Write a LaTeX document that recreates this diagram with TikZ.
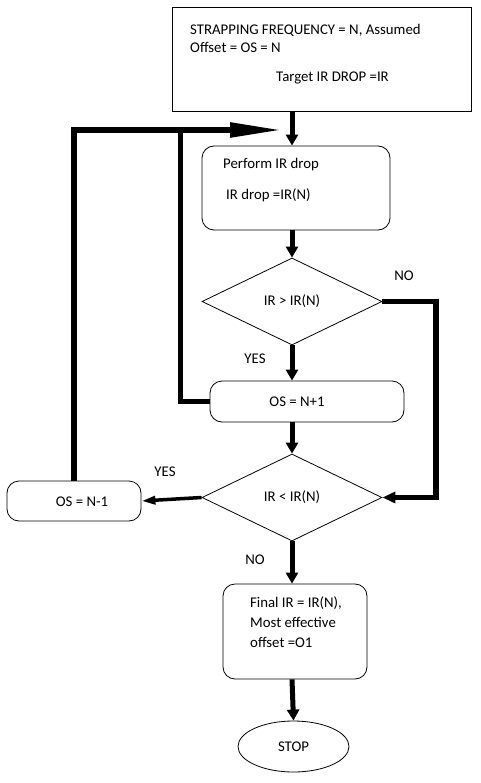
\documentclass[tikz,border=0pt]{standalone}
\usepackage{fontspec}
\setmainfont{Carlito}
\usetikzlibrary{arrows.meta,shapes.geometric}
\begin{document}
\begin{tikzpicture}[x=1pt,y=-1pt,
  every node/.style={font=\fontsize{14.8}{17}\selectfont, inner sep=0pt},
  frame/.style={draw, line width=0.8pt, rectangle},
  rbox/.style={draw, line width=0.8pt, rectangle, rounded corners=12pt},
  dia/.style={draw, line width=0.8pt, diamond, aspect=2, minimum width=180pt, minimum height=87pt},
  txt/.style={anchor=base west},
  thickarrow/.style={line width=5pt, -{Triangle[length=11pt,width=12pt]}},
  thickline/.style={line width=5pt},
  thinarrow/.style={line width=3.5pt, -{Triangle[length=14pt,width=8pt]}},
  bigarrow/.style={line width=5.5pt, -{Triangle[length=52pt,width=14pt]}}
]
\useasboundingbox[fill=white] (0,0) rectangle (481,783);
\coordinate (spine) at (292,0);

% boxes
\node[frame, minimum width=299pt, minimum height=104pt] (init) at (321.5,59) {};
\node[txt] (t1) at (190,35) {STRAPPING FREQUENCY = N, Assumed};
\node[txt] (t2) at (190,53) {Offset = OS = N};
\node[txt] (t3) at (276,82) {Target IR DROP =IR};

\node[rbox, minimum width=188pt, minimum height=84pt] (proc) at (296,188) {};
\node[txt] (p1) at (223,169) {Perform IR drop};
\node[txt] (p2) at (226,200) {IR drop =IR(N)};

\node[dia] (d1) at (292,301.5) {IR > IR(N)};

\node[rbox, minimum width=194pt, minimum height=41pt] (os1) at (307,401.5) {};
\node (os1t) at (297,402) {OS = N+1};

\node[dia] (d2) at (292,497.5) {IR < IR(N)};

\node[rbox, minimum width=134pt, minimum height=40pt] (os3) at (74,501) {};
\node (os3t) at (82,502) {OS = N-1};

\node[rbox, minimum width=144pt, minimum height=95pt] (fin) at (295,631.5) {};
\node[txt] (f1) at (250,607) {Final IR = IR(N),};
\node[txt] (f2) at (250,627) {Most effective};
\node[txt] (f3) at (250,647) {offset =O1};

\node[draw, line width=0.8pt, ellipse, minimum width=111pt, minimum height=51pt] (stop) at (293.5,746.5) {STOP};

% labels
\node (no1) at (404,276) {NO};
\node (yes1) at (255,359) {YES};
\node (yes2) at (165,472) {YES};
\node (no2) at (255,560) {NO};

% connectors
\draw[thickarrow] (init.south -| spine) -- (proc.north -| spine);
\draw[thickarrow] (proc.south -| spine) -- (d1.north);
\draw[thickarrow] (d1.south) -- (os1.north -| spine);
\draw[thickarrow] (os1.south -| spine) -- (d2.north);
\draw[thickarrow] (d2.south) -- (fin.north -| spine);
\draw[thickarrow] (fin.south -| spine) -- (stop.north);

\coordinate (rt) at (436,400);
\draw[line width=5.5pt, -{Triangle[length=13pt,width=11pt]}] (d1.east) -| (rt) |- (d2.east);

\draw[thinarrow] (d2.west) -- (os3.east);

\coordinate (merge) at (282,130);
\coordinate (j) at (180,130);
\draw[bigarrow] (os3.north) |- (merge);
\draw[thickline] (os1.west) -| (j);
\end{tikzpicture}
\end{document}
